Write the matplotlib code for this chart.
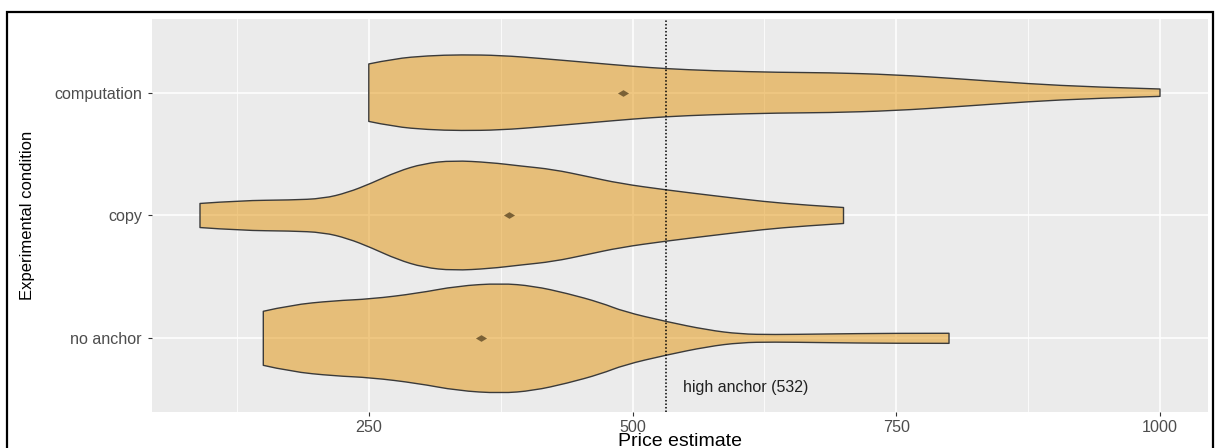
import matplotlib
matplotlib.use("Agg")
import matplotlib.pyplot as plt
from matplotlib.patches import Rectangle, PathPatch
from matplotlib.path import Path
from matplotlib.colors import to_rgba
from matplotlib.ticker import FixedLocator

plt.rcParams['font.family'] = ['Liberation Sans', 'DejaVu Sans']

# Experimental conditions, bottom to top
conditions = ["no anchor", "copy", "computation"]

# Violin outlines: price positions and half-widths (in category units)
no_anchor_price = [150, 176, 217, 252, 296, 334, 375, 406, 438, 470, 492, 532, 571, 602, 633, 681, 744, 800]
no_anchor_half = [0.220, 0.271, 0.306, 0.320, 0.366, 0.426, 0.448, 0.426, 0.366, 0.290, 0.217, 0.136,
                  0.068, 0.035, 0.030, 0.035, 0.041, 0.041]

copy_price = [90, 129, 176, 207, 230, 252, 277, 302, 330, 365, 394, 425, 457, 488, 532, 583, 624, 662, 700]
copy_half = [0.098, 0.122, 0.126, 0.138, 0.187, 0.261, 0.358, 0.423, 0.448, 0.432, 0.403, 0.375,
             0.318, 0.261, 0.208, 0.155, 0.114, 0.086, 0.065]

computation_price = [250, 274, 306, 337, 375, 416, 463, 501, 533, 574, 640, 685, 748, 811, 875, 937, 1000]
computation_half = [0.234, 0.277, 0.301, 0.309, 0.304, 0.277, 0.242, 0.214, 0.195, 0.179, 0.165,
                    0.163, 0.147, 0.112, 0.073, 0.046, 0.030]

# Mean price estimate per condition
means = [356, 383, 491]

high_anchor = 532
x_major = [250, 500, 750, 1000]
x_minor = [125, 375, 625, 875]


def smooth_edge(points):
    """Quadratic-Bezier path pieces running through the midpoints of a polyline."""
    verts, codes = [], []
    n = len(points)
    for i in range(1, n - 1):
        mid = ((points[i][0] + points[i + 1][0]) / 2, (points[i][1] + points[i + 1][1]) / 2)
        if i == n - 2:
            mid = points[-1]
        verts += [points[i], mid]
        codes += [Path.CURVE3, Path.CURVE3]
    return verts, codes


def violin_path(price, half, centre):
    top = [(p, centre + h) for p, h in zip(price, half)]
    bottom = [(p, centre - h) for p, h in zip(price, half)][::-1]
    verts, codes = [top[0]], [Path.MOVETO]
    v, c = smooth_edge(top)
    verts += v
    codes += c
    verts.append(bottom[0])
    codes.append(Path.LINETO)
    v, c = smooth_edge(bottom)
    verts += v
    codes += c
    verts.append(top[0])
    codes.append(Path.CLOSEPOLY)
    return Path(verts, codes)


fig = plt.figure(figsize=(12.15, 4.48), dpi=100)
W, H = 1215, 448
ax = fig.add_axes([152 / W, 1 - 412 / H, (1208 - 152) / W, (412 - 19) / H])
ax.set_facecolor("#EBEBEB")
for s in ax.spines.values():
    s.set_visible(False)

ax.set_xlim(44.5, 1045.5)
ax.set_ylim(0.4, 3.6)

ax.xaxis.set_major_locator(FixedLocator(x_major))
ax.xaxis.set_minor_locator(FixedLocator(x_minor))
ax.set_xticklabels([str(v) for v in x_major])
ax.set_yticks([1, 2, 3])
ax.set_yticklabels(conditions)

ax.grid(which="major", color="white", lw=1.1)
ax.grid(which="minor", axis="x", color="white", lw=0.55)
ax.set_axisbelow(True)

ax.tick_params(axis="both", which="major", length=3.2, width=0.8, color="#333333",
               labelsize=11.6, labelcolor="#4D4D4D")
ax.tick_params(axis="x", pad=2.5)
ax.tick_params(axis="y", pad=4)
ax.tick_params(which="minor", length=0)

fill = to_rgba("#E39309", 0.5)
outlines = [(no_anchor_price, no_anchor_half), (copy_price, copy_half), (computation_price, computation_half)]
for i, (px, hw) in enumerate(outlines):
    patch = PathPatch(violin_path(px, hw, i + 1), facecolor=fill, edgecolor="#3A3A3A",
                      lw=1.0, joinstyle="round", zorder=2)
    ax.add_patch(patch)

diamond = [(-1, 0), (0, 0.6), (1, 0), (0, -0.6), (-1, 0)]
ax.plot(means, [1, 2, 3], ls="none", marker=diamond, markersize=8,
        color="#7A6136", markeredgewidth=0, zorder=3)

ax.axvline(high_anchor, color="black", lw=1.1, ls=(0, (1, 1.3)), zorder=4)
ax.text(high_anchor + 16, 0.6, f"high anchor ({high_anchor})", ha="left", va="center",
        fontsize=11.5, color="#222222")

ax.set_xlabel("Price estimate", fontsize=14, va="center")
ax.xaxis.set_label_coords(0.5, (412 - 441) / 393)
ax.set_ylabel("Experimental condition", fontsize=12, va="center")
ax.yaxis.set_label_coords((27.5 - 152) / 1056, 0.5)

fig.add_artist(Rectangle((7 / W, -0.05), (1213 - 7) / W, 1 - 12 / H + 0.05,
                         transform=fig.transFigure, fill=False, ec="black", lw=1.6))

fig.savefig("out.png", dpi=100)
